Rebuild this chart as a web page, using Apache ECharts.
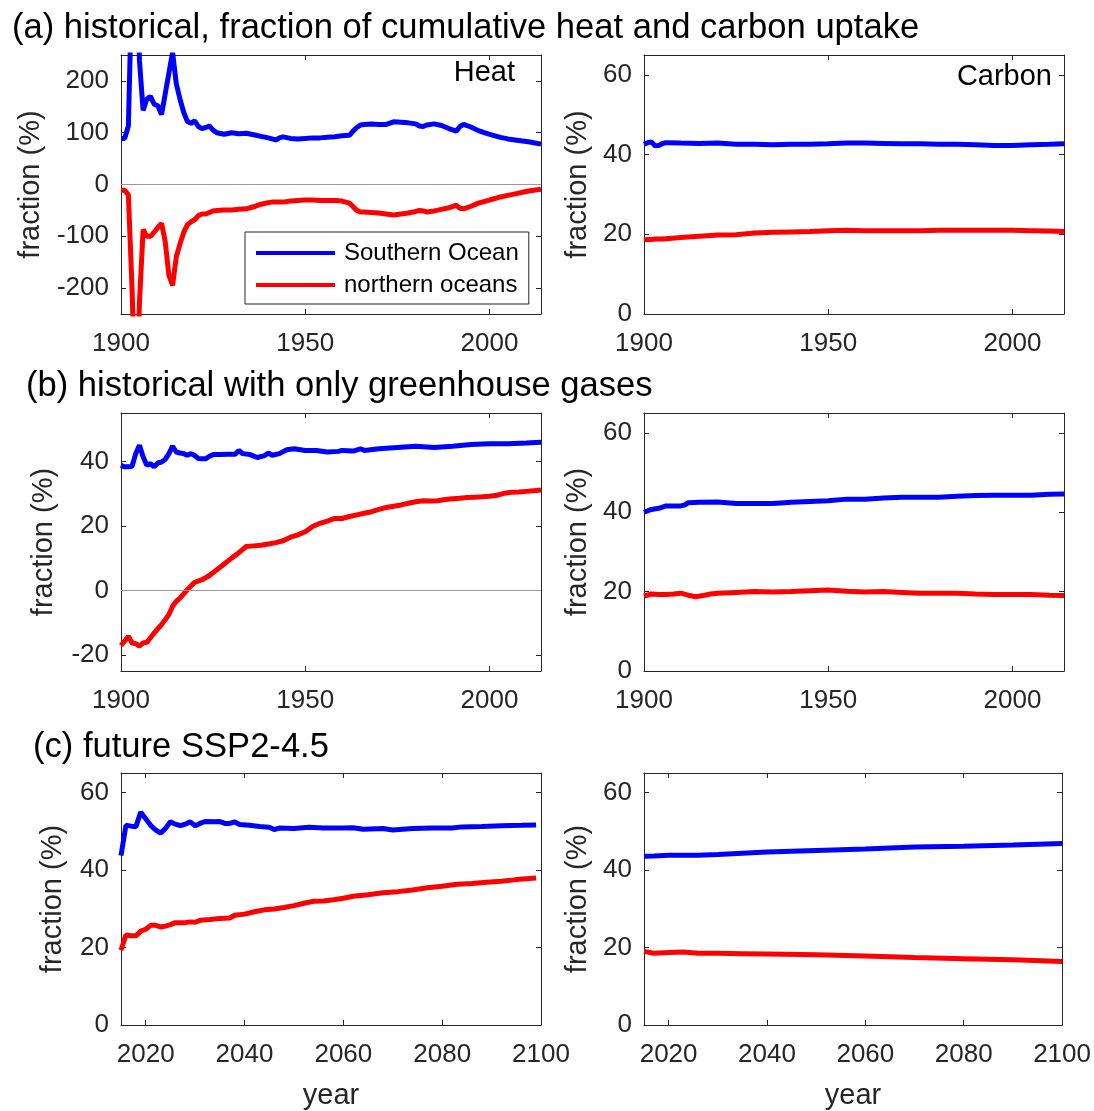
<!DOCTYPE html>
<html>
<head>
<meta charset="utf-8">
<script src="https://cdn.jsdelivr.net/npm/echarts@6/dist/echarts.min.js"></script>
<style>
  html, body { margin: 0; padding: 0; background: #fff; }
  #chart { width: 1094px; height: 1111px; }
</style>
</head>
<body>
<div id="chart"></div>
<script>
// tick labels
const ticksHist = [1900, 1950, 2000];
const ticksFut = [2020, 2040, 2060, 2080, 2100];
const ticksHeat = [-200, -100, 0, 100, 200];
const ticksGhg = [-20, 0, 20, 40];
const ticksFrac = [0, 20, 40, 60];

// (a) historical, heat
const yrHeat = [1900,1901,1902,1903,1904,1905,1906,1907,1908,1909,1910,1911,1912,1913,1914,1915,1916,1917,1918,1919,1920,1921,1922,1923,1924,1925,1926,
  1928,1930,1932,1934,1936,1938,1940,1941,1942,1943,1944,1946,1948,1950,1952,1954,1956,1958,1960,1962,1963,1964,1965,1966,
  1968,1970,1972,1974,1976,1978,1980,1981,1982,1983,1985,1987,1989,1991,1992,1993,1995,1997,1999,2001,2003,2005,2007,2009,2011,2014];
const soHeat = [89,89,113,400,500,240,143,165,170,155,152,135,175,215,255,195,165,140,122,118,123,112,108,110,113,105,100,
  97,100,98,99,96,93,90,88,86,90,92,89,88,89,90,90,91,92,94,95,103,110,115,116,
  117,116,116,121,120,119,117,113,112,115,117,114,108,103,112,116,111,104,99,95,91,88,86,84,82,78];
const noHeat = [-11,-11,-20,-200,-450,-230,-87,-100,-100,-92,-83,-75,-110,-175,-195,-140,-115,-93,-78,-72,-68,-60,-57,-57,-54,-51,-50,
  -49,-49,-48,-47,-43,-38,-35,-34,-34,-34,-34,-32,-31,-30,-30,-31,-31,-31,-32,-36,-43,-50,-53,-53,
  -54,-55,-57,-59,-57,-55,-52,-50,-51,-53,-51,-48,-45,-40,-46,-47,-42,-36,-32,-28,-24,-21,-18,-15,-12,-9];

// (a) historical, carbon
const yrCarb = [1900,1901,1902,1903,1904,1905,1906,1910,1915,1920,1925,1930,1935,1940,1945,1950,1955,1960,1965,1970,1975,1980,1985,1990,1995,2000,2005,2010,2014];
const soCarb = [42.6,43.0,43.2,42.2,42.3,42.8,43.0,42.9,42.8,42.9,42.6,42.6,42.5,42.6,42.6,42.7,42.9,42.9,42.8,42.7,42.7,42.6,42.6,42.5,42.3,42.3,42.5,42.6,42.7];
const noCarb = [18.6,18.7,18.7,18.8,18.8,18.8,18.9,19.2,19.5,19.8,19.9,20.3,20.5,20.6,20.7,20.9,21.0,20.9,20.9,20.9,20.9,21.0,21.0,21.0,21.0,21.0,20.9,20.8,20.7];

// (b) greenhouse gases only, heat
const yrGhgSo = [1900,1901,1902,1903,1904,1905,1906,1907,1908,1909,1910,1911,1912,1913,1914,1915,1916,1917,1918,1919,1920,1921,1922,1923,1924,1925,
  1927,1929,1931,1932,1933,1935,1937,1939,1940,1941,1943,1945,1947,1950,1953,1956,1959,1960,1963,1965,1966,1970,1975,1980,1985,1990,1995,2000,2005,2010,2014];
const soGhg = [38.8,38.3,38.3,38.5,42.4,45.0,41.4,38.8,39.3,38.3,39.5,39.8,40.6,42.4,44.7,42.9,42.6,42.4,41.9,42.4,41.8,40.9,40.8,40.8,41.6,42.1,
  42.1,42.2,42.2,43.4,42.4,42.1,41.2,41.8,42.6,41.9,42.4,43.6,43.9,43.4,43.4,42.9,43.1,43.4,43.2,43.9,43.4,43.9,44.3,44.7,44.3,44.7,45.2,45.5,45.5,45.7,45.9];
const yrGhgNo = [1900,1901,1902,1903,1904,1905,1906,1907,1908,1909,1910,1911,1912,1913,1914,1915,1916,1917,1918,1919,1920,
  1922,1924,1926,1928,1930,1932,1934,1936,1938,1940,1942,1944,1946,1948,1950,1952,1954,1956,1958,1960,1962,1964,1966,1968,1970,
  1972,1974,1976,1978,1980,1982,1984,1986,1988,1990,1992,1994,1996,1998,2000,2002,2004,2006,2008,2010,2012,2014];
const noGhg = [-17.1,-15.7,-14.2,-16.3,-16.5,-17.3,-16.3,-16.1,-14.7,-13.2,-11.9,-10.6,-9.1,-7.5,-4.9,-3.4,-2.4,-1.1,0.2,1.4,2.5,
  3.3,4.6,6.4,8.2,10.0,11.7,13.6,13.8,14.0,14.4,14.8,15.4,16.5,17.2,18.2,19.8,20.8,21.5,22.3,22.3,22.9,23.4,23.9,24.4,25.1,
  25.7,26.1,26.5,27.0,27.5,27.8,27.7,27.8,28.2,28.4,28.6,28.8,28.9,29.0,29.2,29.5,30.1,30.4,30.5,30.7,30.9,31.1];

// (b) greenhouse gases only, carbon
const yrGhgCSo = [1900,1902,1904,1906,1908,1910,1911,1912,1915,1920,1925,1930,1935,1940,1945,1950,1955,1960,1965,1970,1975,1980,1985,1990,1995,2000,2005,2010,2014];
const soGhgC = [40.0,40.7,41.0,41.6,41.6,41.6,41.8,42.4,42.5,42.6,42.2,42.2,42.2,42.5,42.7,42.9,43.3,43.3,43.6,43.8,43.8,43.8,44.0,44.2,44.3,44.3,44.3,44.5,44.6];
const yrGhgCNo = [1900,1902,1904,1906,1908,1910,1912,1914,1916,1918,1920,1925,1930,1935,1940,1945,1950,1955,1960,1965,1970,1975,1980,1985,1990,1995,2000,2005,2010,2014];
const noGhgC = [18.9,19.4,19.3,19.3,19.4,19.6,19.1,18.7,19.0,19.4,19.6,19.8,20.0,19.9,20.0,20.2,20.4,20.1,19.9,20.0,19.8,19.6,19.6,19.6,19.4,19.3,19.3,19.3,19.1,19.0];

// (c) future SSP2-4.5, heat
const yrFutSo = [2015,2016,2017,2018,2019,2020,2021,2022,2023,2024,2025,2026,2027,2028,2029,2030,2031,2032,2034,2035,2036,2037,2038,2039,
  2041,2043,2045,2046,2047,2050,2053,2056,2060,2062,2064,2068,2070,2074,2078,2082,2084,2088,2092,2096,2099];
const soFut = [43.7,51.5,51.3,51.1,54.9,53.2,51.5,50.3,49.5,50.7,52.4,51.8,51.4,51.8,52.4,51.4,52.0,52.5,52.4,52.5,52.0,52.0,52.4,51.7,
  51.5,51.2,51.0,50.4,50.8,50.7,51.0,50.8,50.8,50.9,50.5,50.7,50.3,50.7,50.8,50.8,51.1,51.2,51.4,51.5,51.6];
const yrFutNo = [2015,2016,2017,2018,2019,2020,2021,2022,2023,2024,2025,2026,2028,2029,2030,2031,2033,2035,2037,2038,
  2040,2042,2044,2046,2048,2050,2052,2054,2056,2058,2060,2062,2065,2068,2071,2074,2077,2080,2083,2086,2089,2092,2095,2099];
const noFut = [19.3,23.2,23.0,23.0,24.2,24.7,25.7,25.7,25.3,25.5,25.9,26.4,26.4,26.6,26.5,27.0,27.2,27.5,27.6,28.3,
  28.6,29.2,29.7,29.9,30.3,30.8,31.4,31.9,32.0,32.3,32.7,33.2,33.6,34.1,34.4,34.8,35.4,35.8,36.3,36.5,36.8,37.1,37.5,37.9];

// (c) future SSP2-4.5, carbon
const yrFutC = [2015,2017,2020,2023,2026,2030,2035,2040,2050,2060,2070,2080,2090,2100];
const soFutC = [43.5,43.6,43.8,43.8,43.8,44.0,44.3,44.6,45.0,45.4,45.9,46.1,46.4,46.8];
const noFutC = [19.0,18.5,18.7,18.8,18.5,18.5,18.4,18.3,18.1,17.8,17.4,17.1,16.8,16.4];

const FONT = "'Liberation Sans', Arial, sans-serif";
const INK = '#262626';
const BLUE = '#0000ff';
const RED = '#ff0000';

function pairs(xs, ys) {
  return xs.map((x, i) => [x, ys[i]]);
}

const panels = [
  { left: 121, top: 55, height: 259, xMin: 1900, xMax: 2014, xTicks: ticksHist, yMin: -250, yMax: 250, yTicks: ticksHeat, gap: 76, zero: true,
    so: pairs(yrHeat, soHeat), no: pairs(yrHeat, noHeat) },
  { left: 644, top: 55, height: 259, xMin: 1900, xMax: 2014, xTicks: ticksHist, yMin: 0, yMax: 65, yTicks: ticksFrac, gap: 52,
    so: pairs(yrCarb, soCarb), no: pairs(yrCarb, noCarb) },
  { left: 121, top: 413, height: 258, xMin: 1900, xMax: 2014, xTicks: ticksHist, yMin: -25, yMax: 55, yTicks: ticksGhg, gap: 63, zero: true,
    so: pairs(yrGhgSo, soGhg), no: pairs(yrGhgNo, noGhg) },
  { left: 644, top: 413, height: 258, xMin: 1900, xMax: 2014, xTicks: ticksHist, yMin: 0, yMax: 65, yTicks: ticksFrac, gap: 52,
    so: pairs(yrGhgCSo, soGhgC), no: pairs(yrGhgCNo, noGhgC) },
  { left: 121, top: 773, height: 256, xMin: 2015, xMax: 2100, xTicks: ticksFut, yMin: 0, yMax: 65, yTicks: ticksFrac, gap: 54, xName: 'year',
    so: pairs(yrFutSo, soFut), no: pairs(yrFutNo, noFut) },
  { left: 644, top: 773, height: 256, xMin: 2015, xMax: 2100, xTicks: ticksFut, yMin: 0, yMax: 65, yTicks: ticksFrac, gap: 52, xName: 'year',
    so: pairs(yrFutC, soFutC), no: pairs(yrFutC, noFutC) }
];

const grid = [], xAxis = [], yAxis = [], series = [];

function axisBase(ticks, showLabel) {
  return {
    axisLine: { show: true, onZero: false, lineStyle: { color: INK, width: 1 } },
    axisTick: { show: true, inside: true, length: 5, customValues: ticks, lineStyle: { color: INK } },
    axisLabel: { show: showLabel, customValues: ticks, color: INK, fontSize: 26, fontFamily: FONT,
      formatter: v => String(v) },
    splitLine: { show: false }
  };
}

panels.forEach((p, i) => {
  grid.push({ left: p.left, top: p.top, width: 420, height: p.height });

  const xb = axisBase(p.xTicks, true);
  xb.axisLabel.margin = 17;
  xAxis.push(Object.assign({ type: 'value', gridIndex: i, position: 'bottom', min: p.xMin, max: p.xMax,
    name: p.xName || '', nameLocation: 'middle', nameGap: 56,
    nameTextStyle: { color: INK, fontSize: 29, fontFamily: FONT } }, xb));
  xAxis.push(Object.assign({ type: 'value', gridIndex: i, position: 'top', min: p.xMin, max: p.xMax }, axisBase(p.xTicks, false)));

  const yl = axisBase(p.yTicks, true);
  yl.axisLabel.margin = 12;
  yAxis.push(Object.assign({ type: 'value', gridIndex: i, position: 'left', min: p.yMin, max: p.yMax,
    name: 'fraction (%)', nameLocation: 'middle', nameGap: p.gap,
    nameTextStyle: { color: INK, fontSize: 29, fontFamily: FONT } }, yl));
  yAxis.push(Object.assign({ type: 'value', gridIndex: i, position: 'right', min: p.yMin, max: p.yMax }, axisBase(p.yTicks, false)));

  const blue = {
    name: 'Southern Ocean', type: 'line', xAxisIndex: 2 * i, yAxisIndex: 2 * i,
    data: p.so, symbol: 'none', clip: true, color: BLUE,
    lineStyle: { color: BLUE, width: 5 }
  };
  if (p.zero) {
    blue.markLine = {
      silent: true, symbol: 'none', label: { show: false },
      lineStyle: { color: '#9a9a9a', width: 1, type: 'solid' },
      data: [{ yAxis: 0 }]
    };
  }
  series.push(blue);
  series.push({
    name: 'northern oceans', type: 'line', xAxisIndex: 2 * i, yAxisIndex: 2 * i,
    data: p.no, symbol: 'none', clip: true, color: RED,
    lineStyle: { color: RED, width: 5 }
  });
});

const chart = echarts.init(document.getElementById('chart'), null, { renderer: 'canvas' });
chart.setOption({
  backgroundColor: '#fff',
  animation: false,
  grid: grid,
  xAxis: xAxis,
  yAxis: yAxis,
  series: series,
  legend: {
    data: ['Southern Ocean', 'northern oceans'],
    orient: 'vertical', left: 245, top: 232,
    selectedMode: false,
    icon: 'rect', itemWidth: 79, itemHeight: 4, itemGap: 8,
    padding: [9, 10, 7, 11],
    backgroundColor: '#fff', borderColor: INK, borderWidth: 1,
    textStyle: { color: '#000', fontSize: 24, fontFamily: FONT, padding: [0, 0, 0, 4] }
  },
  graphic: [
    { type: 'text', x: 12, y: 28, style: { text: '(a) historical, fraction of cumulative heat and carbon uptake', font: '34.6px ' + FONT, fill: '#000', verticalAlign: 'middle' } },
    { type: 'text', x: 26, y: 386, style: { text: '(b) historical with only greenhouse gases', font: '34.6px ' + FONT, fill: '#000', verticalAlign: 'middle' } },
    { type: 'text', x: 33, y: 747, style: { text: '(c) future SSP2-4.5', font: '34.6px ' + FONT, fill: '#000', verticalAlign: 'middle' } },
    { type: 'text', x: 515, y: 73, style: { text: 'Heat', font: '29px ' + FONT, fill: '#000', align: 'right', verticalAlign: 'middle' } },
    { type: 'text', x: 1052, y: 77, style: { text: 'Carbon', font: '29px ' + FONT, fill: '#000', align: 'right', verticalAlign: 'middle' } }
  ]
});
</script>
</body>
</html>
